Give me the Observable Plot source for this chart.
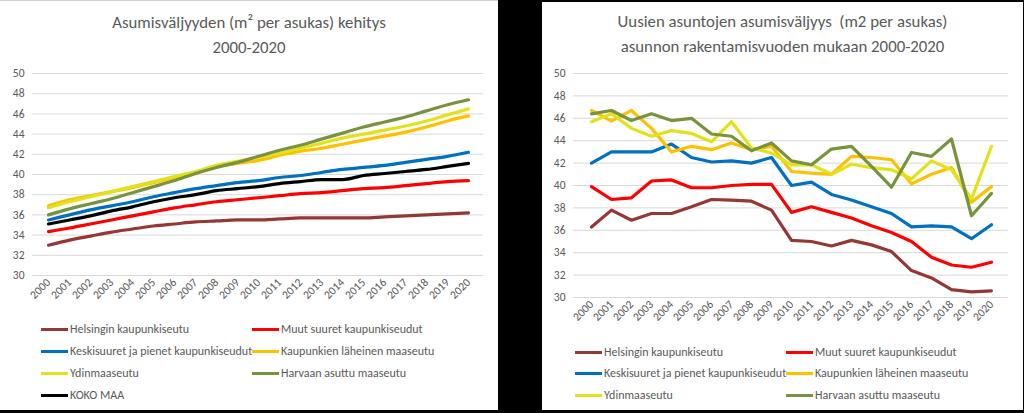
<!DOCTYPE html>
<html>
<head>
<meta charset="utf-8">
<script src="https://cdn.jsdelivr.net/npm/d3@7"></script>
<script src="https://cdn.jsdelivr.net/npm/@observablehq/plot@0.6"></script>
<style>
  html, body { margin: 0; padding: 0; background: #000; }
  body { width: 1024px; height: 413px; position: relative; overflow: hidden; font-family: Carlito, Lato, sans-serif; }
  .panel { position: absolute; background: #fff; }
  .title { position: absolute; left: 0; right: 0; text-align: center; color: #595959; font-size: 16.8px; line-height: 25px; white-space: pre; }
  .chart { position: absolute; left: 0; }
  .leg { position: absolute; display: flex; align-items: center; color: #595959; font-size: 12px; white-space: nowrap; }
  .sw { width: 27px; height: 3px; margin-right: 2px; }
</style>
</head>
<body>
<div id="left" class="panel" style="left:0px;top:0px;width:498px;height:410px;border-top:1px solid #d0d0d0;box-sizing:border-box;"></div>
<div id="right" class="panel" style="left:542px;top:2px;width:481px;height:408px;"></div>
<script>
const years = d3.range(2000, 2021);
const seriesNames = ["Helsingin kaupunkiseutu", "Muut suuret kaupunkiseudut", "Keskisuuret ja pienet kaupunkiseudut", "Kaupunkien läheinen maaseutu", "Ydinmaaseutu", "Harvaan asuttu maaseutu", "KOKO MAA"];
const seriesColors = ["#953735", "#ff0000", "#0070c0", "#ffc000", "#e2e21a", "#77933c", "#000000"];
const yTicks = [30, 32, 34, 36, 38, 40, 42, 44, 46, 48, 50];

// Left chart: asumisväljyys 2000-2020
const leftHelsinki = [33.0, 33.5, 33.9, 34.3, 34.6, 34.9, 35.1, 35.3, 35.4, 35.5, 35.5, 35.6, 35.7, 35.7, 35.7, 35.7, 35.8, 35.9, 36.0, 36.1, 36.2];
const leftMuut     = [34.35, 34.7, 35.1, 35.5, 35.9, 36.3, 36.7, 37.0, 37.3, 37.5, 37.7, 37.9, 38.1, 38.2, 38.4, 38.6, 38.7, 38.9, 39.1, 39.3, 39.4];
const leftKeski    = [35.5, 36.0, 36.5, 36.9, 37.3, 37.8, 38.2, 38.6, 38.9, 39.2, 39.4, 39.7, 39.9, 40.2, 40.5, 40.7, 40.9, 41.2, 41.5, 41.8, 42.2];
const leftLaheinen = [36.9, 37.5, 37.9, 38.3, 38.7, 39.2, 39.7, 40.2, 40.8, 41.1, 41.4, 41.9, 42.3, 42.6, 43.0, 43.4, 43.8, 44.2, 44.7, 45.3, 45.8];
const leftYdin     = [36.7, 37.3, 37.8, 38.3, 38.8, 39.3, 39.8, 40.3, 40.9, 41.3, 41.7, 42.1, 42.6, 43.1, 43.6, 44.0, 44.4, 44.8, 45.3, 45.9, 46.5];
const leftHarvaan  = [36.0, 36.6, 37.1, 37.6, 38.2, 38.8, 39.4, 40.1, 40.7, 41.2, 41.8, 42.4, 42.9, 43.5, 44.1, 44.7, 45.2, 45.7, 46.3, 46.9, 47.4];
const leftKokoMaa  = [35.1, 35.5, 35.9, 36.4, 36.8, 37.3, 37.7, 38.0, 38.4, 38.6, 38.8, 39.1, 39.3, 39.5, 39.5, 39.9, 40.1, 40.3, 40.5, 40.8, 41.1];

// Right chart: uusien asuntojen asumisväljyys rakentamisvuoden mukaan
const rightHelsinki = [36.3, 37.8, 36.9, 37.5, 37.5, 38.1, 38.75, 38.7, 38.6, 37.8, 35.1, 35.0, 34.6, 35.1, 34.7, 34.1, 32.4, 31.75, 30.7, 30.5, 30.6];
const rightMuut     = [39.9, 38.75, 38.9, 40.4, 40.5, 39.8, 39.8, 40.0, 40.1, 40.1, 37.6, 38.1, 37.6, 37.1, 36.4, 35.8, 35.0, 33.6, 32.9, 32.7, 33.15];
const rightKeski    = [42.0, 43.0, 43.0, 43.0, 43.7, 42.5, 42.1, 42.2, 42.0, 42.5, 40.0, 40.3, 39.2, 38.7, 38.1, 37.5, 36.3, 36.4, 36.3, 35.25, 36.5];
const rightLaheinen = [46.7, 45.75, 46.7, 45.1, 43.0, 43.5, 43.2, 43.8, 43.2, 43.5, 41.25, 41.1, 41.0, 42.6, 42.5, 42.3, 40.15, 41.0, 41.6, 38.5, 39.9];
const rightYdin     = [45.7, 46.4, 45.1, 44.4, 44.9, 44.65, 43.9, 45.7, 43.35, 42.9, 41.85, 41.85, 41.0, 41.9, 41.6, 41.4, 40.6, 42.2, 41.4, 38.8, 43.5];
const rightHarvaan  = [46.4, 46.7, 45.8, 46.4, 45.8, 46.0, 44.6, 44.4, 43.1, 43.8, 42.2, 41.85, 43.25, 43.5, 41.7, 39.85, 42.95, 42.6, 44.15, 37.3, 39.3];

const leftSeries = [leftHelsinki, leftMuut, leftKeski, leftLaheinen, leftYdin, leftHarvaan, leftKokoMaa];
const rightSeries = [rightHelsinki, rightMuut, rightKeski, rightLaheinen, rightYdin, rightHarvaan];

function toRows(seriesList) {
  const rows = [];
  seriesList.forEach((vals, i) => years.forEach((yr, j) => rows.push({year: yr, value: vals[j], series: seriesNames[i]})));
  return rows;
}

function makeChart(seriesList, opts) {
  const names = seriesNames.slice(0, seriesList.length);
  const rows = toRows(seriesList);
  return Plot.plot({
    width: opts.width,
    height: opts.height,
    marginTop: opts.marginTop,
    marginLeft: opts.marginLeft,
    marginRight: opts.marginRight,
    marginBottom: opts.marginBottom,
    style: {fontFamily: "Carlito, Lato, sans-serif", fontSize: "11.5px", color: "#595959", background: "transparent", overflow: "visible"},
    x: {type: "point", domain: years, padding: 0.5, label: null, tickSize: 0, tickPadding: 5, tickRotate: -45, tickFormat: d => String(d)},
    y: {domain: [30, 50], ticks: yTicks, label: null, tickSize: 0, tickPadding: 8},
    color: {domain: names, range: seriesColors.slice(0, names.length)},
    marks: [
      Plot.ruleY(yTicks, {stroke: "#d9d9d9", strokeWidth: 1}),
      ...names.map(n => Plot.line(rows.filter(r => r.series === n), {x: "year", y: "value", stroke: "series", strokeWidth: 3.2, curve: opts.curve, strokeLinejoin: "round", strokeLinecap: "round"}))
    ]
  });
}

function addTitle(panel, text, top) {
  const t = document.createElement("div");
  t.className = "title";
  t.style.top = top + "px";
  t.textContent = text;
  panel.appendChild(t);
}

function addLegend(panel, count, colX, rowY) {
  for (let i = 0; i < count; i++) {
    const el = document.createElement("div");
    el.className = "leg";
    el.style.left = colX[i % 2] + "px";
    el.style.top = (rowY[Math.floor(i / 2)] - 8) + "px";
    el.style.height = "16px";
    const sw = document.createElement("div");
    sw.className = "sw";
    sw.style.background = seriesColors[i];
    el.appendChild(sw);
    const tx = document.createElement("span");
    tx.textContent = seriesNames[i];
    el.appendChild(tx);
    panel.appendChild(el);
  }
}

const left = document.getElementById("left");
addTitle(left, "Asumisväljyyden (m² per asukas) kehitys\n2000-2020", 9);
const lc = makeChart(leftSeries, {width: 498, height: 252, marginTop: 12, marginLeft: 32, marginRight: 15, marginBottom: 38, curve: "monotone-x"});
lc.classList.add("chart");
lc.style.top = "60px";
left.appendChild(lc);
addLegend(left, 7, [41, 252], [328, 350, 372, 394]);

const right = document.getElementById("right");
addTitle(right, "Uusien asuntojen asumisväljyys  (m2 per asukas)\nasunnon rakentamisvuoden mukaan 2000-2020", 7);
const rc = makeChart(rightSeries, {width: 481, height: 275, marginTop: 13, marginLeft: 31, marginRight: 15, marginBottom: 38, curve: "linear"});
rc.classList.add("chart");
rc.style.top = "58px";
right.appendChild(rc);
addLegend(right, 6, [33, 244], [350, 371, 393]);
</script>
</body>
</html>
